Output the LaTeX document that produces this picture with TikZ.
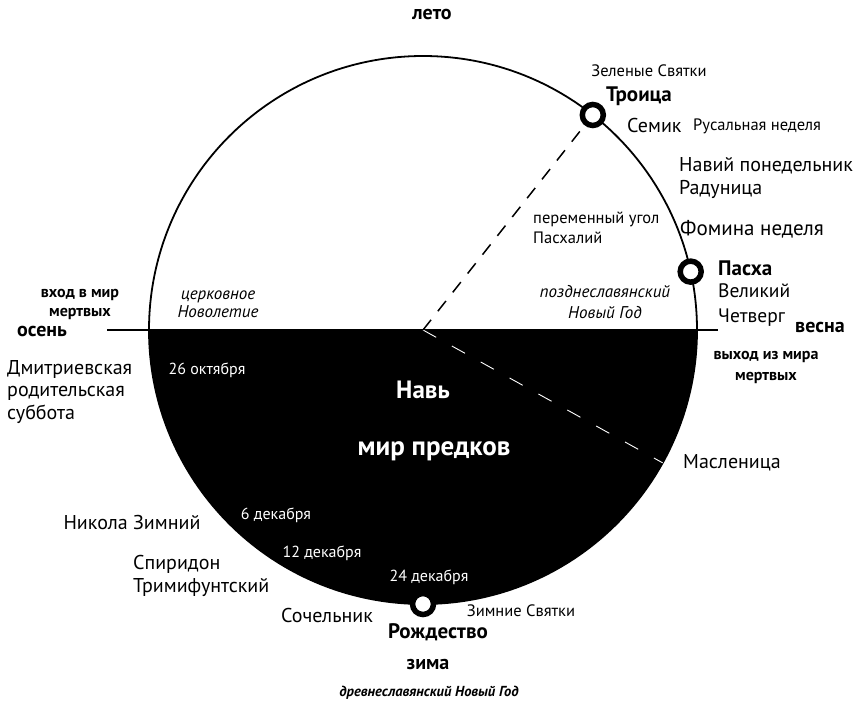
\documentclass[tikz,border=0pt]{standalone}
\usepackage{fontspec}
\setmainfont{PT Sans}
\usepackage{tikz}
\usetikzlibrary{positioning,calc}

\begin{document}
\begin{tikzpicture}[x=1pt,y=-1pt,
  big/.style={inner sep=0pt,font=\fontsize{20}{23}\selectfont},
  bigbold/.style={inner sep=0pt,font=\fontsize{21}{24}\selectfont\bfseries},
  small/.style={inner sep=0pt,font=\fontsize{16.5}{19}\selectfont},
  smallbold/.style={inner sep=0pt,font=\fontsize{16}{20}\selectfont\bfseries},
  season/.style={inner sep=0pt,font=\fontsize{20}{23}\selectfont\bfseries},
  ital/.style={inner sep=0pt,font=\fontsize{17}{20}\selectfont\itshape},
  date/.style={inner sep=0pt,text=white,font=\fontsize{16}{19}\selectfont},
  feast/.style={circle,draw=black,fill=white,line width=5.5pt,minimum size=21pt,inner sep=0pt}]
\useasboundingbox (0,0) rectangle (859,704);
% year circle, lower half is Nav
\coordinate (c) at (423,330);
\fill (c) ++(0:274) arc[start angle=0,end angle=180,radius=274] -- cycle;
\draw[line width=1.8pt] (c) circle[radius=274];
\draw[line width=1.6pt] (107,330) -- (718,330);
\coordinate (masl) at ($(c)+(29:274)$);
\draw[white,line width=0.9pt,dash pattern=on 15pt off 18pt] (c) -- (masl);
% feasts on the circle
\node[feast] (troica) at ($(c)+(-51.7:274)$) {};
\node[feast] (pasha) at ($(c)+(-12.3:274)$) {};
\node[feast] (rozh) at ($(c)+(90:274)$) {};
\draw[line width=1.5pt,dash pattern=on 13pt off 11pt] (c) -- (troica);

\node[season] (leto) at (432,14) {лето};
\node[season,anchor=west] (osen) at (17,331) {осень};
\node[season,anchor=west] (vesna) at (795,327) {весна};
\node[season] (zima) at (428,665) {зима};

\node[small] (zelen) at (649,71) {Зеленые Святки};
\node[bigbold] (troicalbl) at (639,96) {Троица};
\node[big,anchor=west] (semik) at (627,125) {Семик};
\node[small,anchor=west] (rusal) at (693,126) {Русальная неделя};
\node[big,anchor=west,align=left] (navij) at (679,178) {Навий понедельник\\Радуница};
\node[small,anchor=west,align=left,font=\fontsize{16.5}{19.5}\selectfont] (ugol) at (533,228) {переменный угол\\Пасхалий};
\node[big,anchor=west,font=\fontsize{21}{24}\selectfont] (fomina) at (680,229) {Фомина неделя};
\node[bigbold,anchor=west] (pashalbl) at (718,268) {Пасха};
\node[big,anchor=west,align=left,font=\fontsize{19.5}{25}\selectfont] (velikij) at (718,305) {Великий\\Четверг};
\node[ital,align=center,font=\fontsize{17}{21}\selectfont\itshape] (pozdne) at (605,302) {позднеславянский\\Новый Год};
\node[smallbold,align=center,font=\fontsize{16}{21}\selectfont\bfseries] (vyhod) at (766,367) {выход из мира\\мертвых};
\node[smallbold,align=center,font=\fontsize{16}{19}\selectfont\bfseries] (vhod) at (80,304) {вход в мир\\мертвых};
\node[ital,align=center,font=\fontsize{17}{18.5}\selectfont\itshape] (cerkov) at (218,304) {церковное\\Новолетие};

\node[big,anchor=west,align=left,font=\fontsize{20}{22.5}\selectfont] (dmitr) at (7,392) {Дмитриевская\\родительская\\суббота};
\node[date] (okt) at (207,370) {26 октября};
\node[inner sep=0pt,text=white,font=\fontsize{25}{28}\selectfont\bfseries] (nav) at (423,390) {Навь};
\node[inner sep=0pt,text=white,font=\fontsize{27}{30}\selectfont\bfseries] (predki) at (434,451) {мир предков};
\node[big,anchor=west] (maslenica) at (683,463) {Масленица};

\node[big] (nikola) at (132,522) {Никола Зимний};
\node[date] (dek6) at (276,515) {6 декабря};
\node[date] (dek12) at (322,553) {12 декабря};
\node[big,anchor=west,align=left] (spirid) at (133,576) {Спиридон\\Тримифунтский};
\node[date] (dek24) at (429,577) {24 декабря};
\node[big] (sochel) at (327,615) {Сочельник};
\node[small] (zimsv) at (521,611) {Зимние Святки};
\node[bigbold] (rozhlbl) at (438,632) {Рождество};
\node[inner sep=0pt,font=\fontsize{14.5}{17}\selectfont\bfseries\itshape] (drevne) at (429,693) {древнеславянский Новый Год};
\end{tikzpicture}
\end{document}
